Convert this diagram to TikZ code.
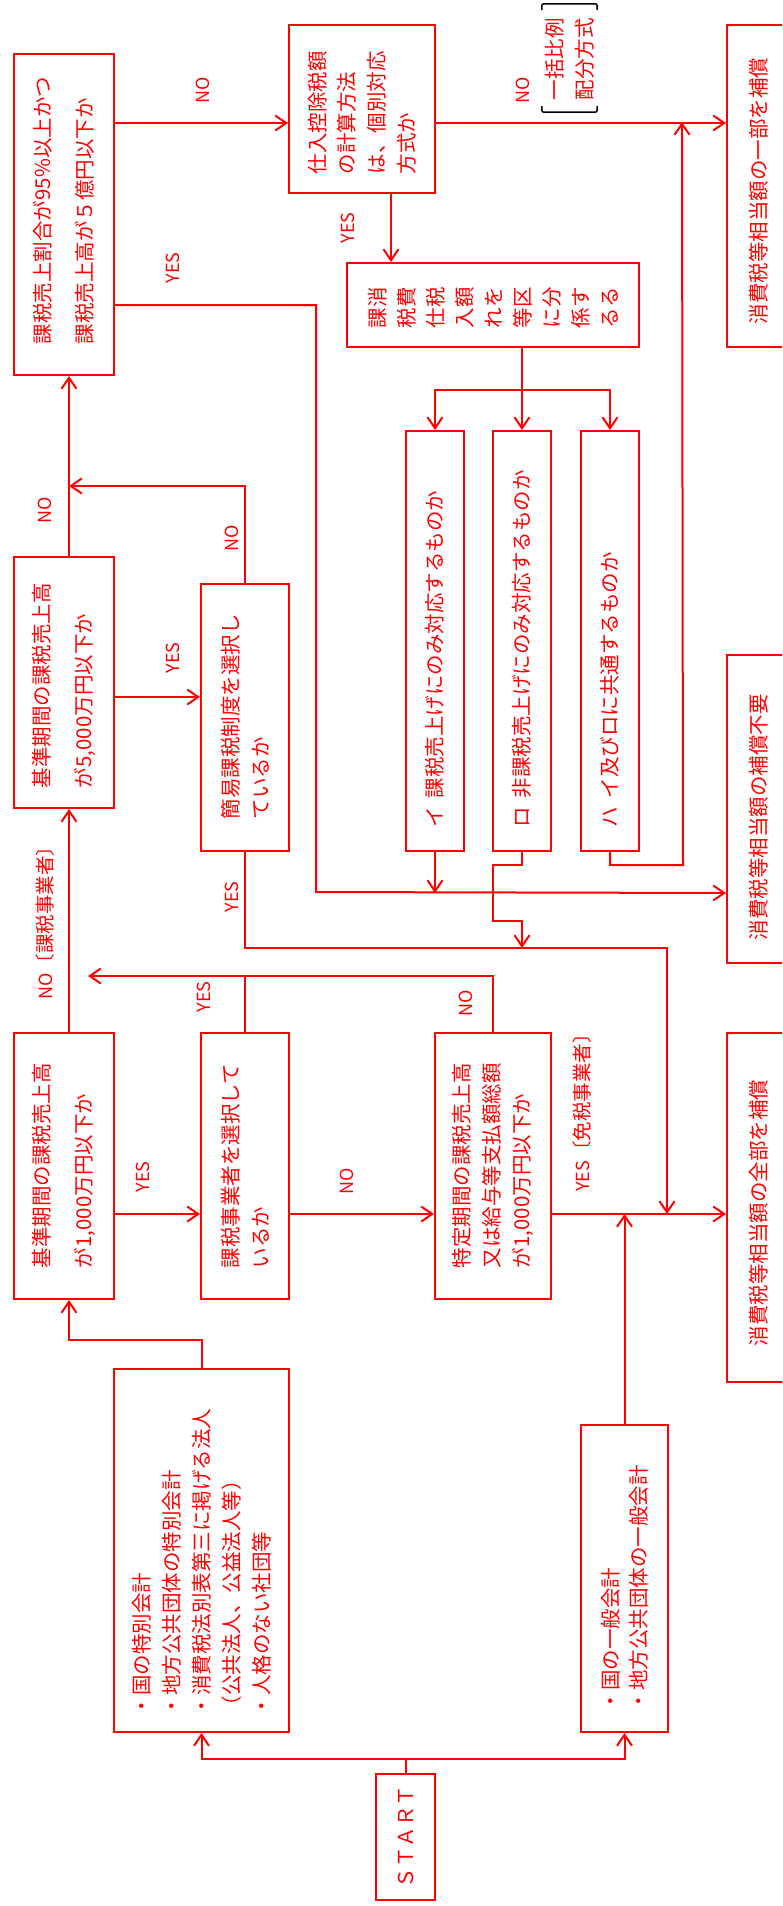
\documentclass[tikz,border=0pt]{standalone}
\usepackage{fontspec}
\setmainfont{Noto Sans CJK JP}
\usepackage{graphicx}
\usepackage{tikz}
\usetikzlibrary{arrows.meta, calc}
\newcommand{\rot}[1]{\rotatebox{90}{#1}}
\newcommand{\sidetext}[3]{\rotatebox{90}{\parbox{#1pt}{\fontsize{20.5}{#2}\selectfont\raggedright #3}}}

\begin{document}
\begin{tikzpicture}[x=1pt, y=-1pt,
  box/.style={draw=red, line width=2pt, inner sep=0pt, text=red, anchor=north west, font=\fontsize{20.5}{20.5}\selectfont},
  lbl/.style={text=red, inner sep=0pt, font=\fontsize{18}{18}\selectfont},
  link/.style={draw=red, line width=2pt},
  arr/.style={-{Straight Barb[length=11pt,width=15pt]}}]
\useasboundingbox (0,0) rectangle (782,1906);
\clip (0,0) rectangle (782,1906);
% Decision boxes (text turned on its side)
\node[box, minimum width=100pt, minimum height=321pt] (cond95) at (13,53) {\sidetext{259}{42}{課税売上割合が95\%以上かつ\\課税売上高が５億円以下か}};
\node[box, minimum width=146pt, minimum height=168pt] (method) at (288,24) {\sidetext{130}{29.7}{仕入控除税額\\の計算方法\\は、個別対応\\方式か}};
\node[box, minimum width=292pt, minimum height=84pt] (kubun) at (346,262) {\sidetext{46}{29}{課消\\税費\\仕税\\入額\\れを\\等区\\に分\\係す\\るる}};
\node[box, minimum width=58pt, minimum height=420pt] (iBox) at (405,430) {\sidetext{372}{30}{イ\hspace{0.4em}課税売上げにのみ対応するものか}};
\node[box, minimum width=58pt, minimum height=420pt] (roBox) at (492,430) {\sidetext{372}{30}{ロ\hspace{0.4em}非課税売上げにのみ対応するものか}};
\node[box, minimum width=58pt, minimum height=420pt] (haBox) at (580,430) {\sidetext{372}{30}{ハ\hspace{0.4em}イ及びロに共通するものか}};
\node[box, minimum width=100pt, minimum height=251pt] (base5000) at (13,556) {\sidetext{211}{42}{基準期間の課税売上高\\が5,000万円以下か}};
\node[box, minimum width=88pt, minimum height=267pt] (simple) at (200,583) {\sidetext{203}{30}{簡易課税制度を選択し\\ているか}};
\node[box, minimum width=100pt, minimum height=266pt] (base1000) at (13,1032) {\sidetext{204}{42}{基準期間の課税売上高\\が1,000万円以下か}};
\node[box, minimum width=88pt, minimum height=266pt] (choice) at (200,1032) {\sidetext{204}{30}{課税事業者を選択して\\いるか}};
\node[box, minimum width=116pt, minimum height=266pt] (specific) at (434,1032) {\sidetext{204}{30}{特定期間の課税売上高\\又は給与等支払額総額\\が1,000万円以下か}};
\node[box, minimum width=175pt, minimum height=363pt] (special) at (113,1368) {\sidetext{331}{30}{・国の特別会計\\・地方公共団体の特別会計\\・消費税法別表第三に掲げる法人\\（公共法人、公益法人等）\\・人格のない社団等}};
\node[box, minimum width=87pt, minimum height=307pt] (general) at (580,1424) {\sidetext{265}{28}{・国の一般会計\\・地方公共団体の一般会計}};
\node[box, minimum width=59pt, minimum height=126pt] (start) at (375,1773) {\rot{ＳＴＡＲＴ}};
% Result boxes (cut by the right edge)
\node[box, minimum width=64pt, minimum height=322pt] (partComp) at (726,24) {\sidetext{276}{30}{消費税等相当額の一部を補償}};
\node[box, minimum width=64pt, minimum height=308pt] (noComp) at (726,654) {\sidetext{262}{30}{消費税等相当額の補償不要}};
\node[box, minimum width=64pt, minimum height=349pt] (fullComp) at (726,1032) {\sidetext{277}{30}{消費税等相当額の全部を補償}};
% Bracketed note
\node[inner sep=0pt, minimum width=55pt, minimum height=108pt, text=red] (ikkatsu) at (569.5,58) {\sidetext{84}{30}{一括比例\\配分方式}};
\draw[black, line width=1.5pt, rounded corners=2pt] ([yshift=-6pt]ikkatsu.north west) -- (ikkatsu.north west) -- (ikkatsu.north east) -- ([yshift=-6pt]ikkatsu.north east);
\draw[black, line width=1.5pt, rounded corners=2pt] ([yshift=6pt]ikkatsu.south west) -- (ikkatsu.south west) -- (ikkatsu.south east) -- ([yshift=6pt]ikkatsu.south east);
% Junctions
\coordinate (bNO) at ([yshift=-14pt]method.west);
\coordinate (aYes) at ([yshift=-90.5pt]cond95.east);
\coordinate (aTurn) at (316,892);
\coordinate (eIn) at ([yshift=-84pt]noComp.west);
\coordinate (fork) at ([xshift=29pt,yshift=-42pt]kubun.south);
\coordinate (haTop) at (682,122);
\coordinate (simpleYes) at (667,948);
\coordinate (gNo) at ([xshift=5pt,yshift=70pt]base5000.north);
\coordinate (gIn) at ([yshift=20.5pt]simple.west);
\coordinate (lIn) at ([yshift=-6.5pt]fullComp.west);
\coordinate (kazei) at (88,976);
\coordinate (startJn) at ([yshift=14pt]start.north);
% Connectors, top part
\draw[link, arr] (cond95.east |- bNO) -- (bNO);
\draw[link, arr] (method.east |- bNO) -- (partComp.west |- bNO);
\draw[link, arr] (aYes) -| (aTurn) -- (eIn);
\draw[link, arr] ([xshift=29pt]method.south) -- ([xshift=29pt]method.south |- kubun.north);
\draw[link] ([xshift=29pt]kubun.south) -- (fork);
\draw[link, arr] (fork) -- (roBox.north);
\draw[link, arr] (fork) -| (iBox.north);
\draw[link, arr] (fork) -| (haBox.north);
\draw[link, arr] (iBox.south) -- (iBox.south |- eIn);
\draw[link, arr] (roBox.south) -- ++(0,13) -- ++(-29,0) -- ++(0,56) -- ++(29,0) -- (roBox.south |- simpleYes);
\draw[link, arr] (haBox.south) -- ++(0,13) -- ++(73,0) -- (haTop);
% Connectors, middle part
\draw[link, arr] ([xshift=5pt]base5000.north) -- ([xshift=5pt]cond95.south);
\draw[link, arr] (simple.north) |- (gNo);
\draw[link, arr] (base5000.east |- gIn) -- (gIn);
\draw[link, arr] (simple.south) |- (simpleYes) -- (simpleYes |- lIn);
\draw[link, arr] ([xshift=5pt]base1000.north) -- ([xshift=5pt]base5000.south);
\draw[link, arr] (base1000.east |- lIn) -- (choice.west |- lIn);
\draw[link, arr] (choice.east |- lIn) -- (specific.west |- lIn);
\draw[link, arr] (specific.east |- lIn) -- (lIn);
\draw[link] (choice.north) -- (choice.north |- kazei);
\draw[link, arr] (specific.north) |- (kazei);
% Connectors, bottom part
\draw[link, arr] (general.north) -- (general.north |- lIn);
\draw[link] (start.north) -- (startJn);
\draw[link, arr] (startJn) -| (special.south);
\draw[link, arr] (startJn) -| (general.south);
\draw[link, arr] (special.north) -- ++(0,-28) -| ([xshift=5pt]base1000.south);
% YES / NO labels
\node[lbl] (noAB) at (203,90) {\rot{NO}};
\node[lbl] (yesA) at (173,268) {\rot{YES}};
\node[lbl] (noBF) at (523,90) {\rot{NO}};
\node[lbl] (yesBC) at (348,228) {\rot{YES}};
\node[lbl] (noDA) at (45,510) {\rot{NO}};
\node[lbl] (noG) at (232,538) {\rot{NO}};
\node[lbl] (yesDG) at (173,658) {\rot{YES}};
\node[lbl] (yesG) at (232,897) {\rot{YES}};
\node[lbl] (noH) at (45,918) {\rot{NO{\fontsize{19.5}{19.5}\selectfont〔課税事業者〕}}};
\node[lbl] (yesG2) at (204,997) {\rot{YES}};
\node[lbl] (noK) at (466,1003) {\rot{NO}};
\node[lbl] (yesHG) at (143,1177) {\rot{YES}};
\node[lbl] (noGK) at (347,1181) {\rot{NO}};
\node[lbl] (yesK) at (582,1108) {\rot{YES{\fontsize{19.5}{19.5}\selectfont〔免税事業者〕}}};
\end{tikzpicture}
\end{document}
